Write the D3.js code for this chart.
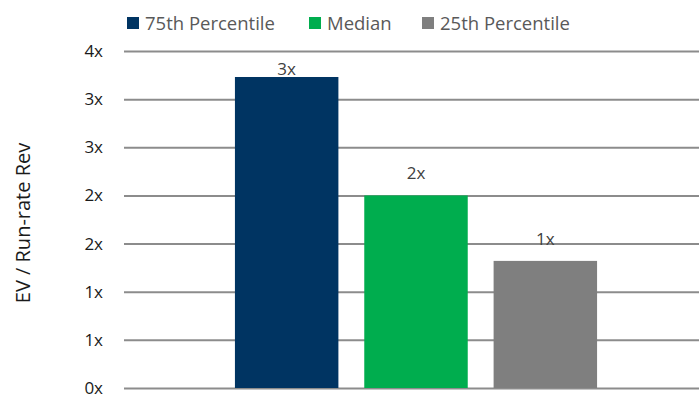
<!DOCTYPE html>
<html>
<head>
<meta charset="utf-8">
<script src="https://cdn.jsdelivr.net/npm/d3@7"></script>
<style>
  body { margin: 0; background: #fff; }
  text { font-family: "Open Sans", sans-serif; }
</style>
</head>
<body>
<svg id="chart" width="699" height="394"></svg>
<script>
// chart data
var series = ["75th Percentile", "Median", "25th Percentile"]
var values = [3.23, 2.0, 1.32]
var labels = ["3x", "2x", "1x"]
var colors = ["#003462", "#00ad4e", "#7f7f7f"]
var yTicks = [0, 0.5, 1, 1.5, 2, 2.5, 3, 3.5]

var svg = d3.select("#chart")
var plotLeft = 124, plotRight = 699, plotTop = 51, plotBottom = 388

var y = d3.scaleLinear().domain([0, 3.5]).range([plotBottom, plotTop])
var x = d3.scaleBand().domain(series).range([222, 610]).paddingInner(0.2).paddingOuter(0.1)

/*
gridlines + tick labels
*/
var yAxis = d3.axisLeft(y).tickValues(yTicks)
  .tickFormat(d => Math.round(d + 1e-9) + "x")
  .tickSize(-(plotRight - plotLeft)).tickPadding(21)
var g = svg.append("g").attr("transform", "translate(" + plotLeft + ",0)").call(yAxis)
g.select(".domain").remove()
g.selectAll(".tick line").attr("stroke", "#8c8c8c").attr("stroke-width", 2)
g.selectAll(".tick text").attr("fill", "#1a1a1a").style("font-size", "17px")

// bars
svg.selectAll(".bar").data(values).enter()
  .append("rect")
  .attr("x", (d, i) => x(series[i]))
  .attr("y", d => y(d))
  .attr("width", x.bandwidth())
  .attr("height", d => y(0) - y(d))
  .attr("fill", (d, i) => colors[i])

// data labels (pushed down when they hit the top of the plot)
svg.selectAll(".lbl").data(values).enter()
  .append("text")
  .attr("x", (d, i) => x(series[i]) + x.bandwidth() / 2)
  .attr("y", d => Math.max(y(d) - 16, 75))
  .attr("text-anchor", "middle")
  .attr("fill", "#404040")
  .style("font-size", "17px")
  .text((d, i) => labels[i])

// y axis title
svg.append("text")
  .attr("transform", "translate(30,223) rotate(-90)")
  .attr("text-anchor", "middle")
  .attr("fill", "#1a1a1a")
  .style("font-size", "20px")
  .text("EV / Run-rate Rev")

/*
legend
*/
var legendX = [127, 309, 422]
var lg = svg.selectAll(".legend").data(series).enter()
  .append("g")
  .attr("transform", (d, i) => "translate(" + legendX[i] + ",17)")
lg.append("rect").attr("width", 12).attr("height", 12).attr("fill", (d, i) => colors[i])
lg.append("text").attr("x", 18).attr("y", 12.5)
  .attr("fill", "#595959")
  .style("font-size", "18.5px")
  .text(d => d)
</script>
</body>
</html>
